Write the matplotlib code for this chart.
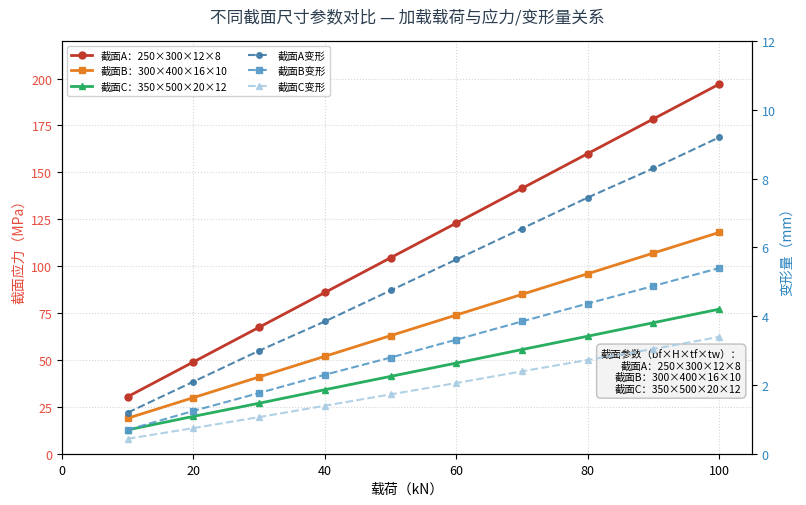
import numpy as np
import matplotlib.pyplot as plt

plt.rcParams['font.family'] = ['Noto Sans CJK SC', 'DejaVu Sans']
plt.rcParams['axes.unicode_minus'] = False

## DATA
#
load = [10, 20, 30, 40, 50, 60, 70, 80, 90, 100]  # kN
stressA = [30.5, 49.0, 67.5, 86.0, 104.5, 123.0, 141.5, 160.0, 178.5, 197.0]  # MPa
stressB = [19.0, 30.0, 41.0, 52.0, 63.0, 74.0, 85.0, 96.0, 107.0, 118.0]
stressC = [12.8, 20.0, 27.0, 34.2, 41.3, 48.4, 55.6, 62.7, 69.9, 77.1]
defA = [1.2, 2.1, 3.0, 3.85, 4.75, 5.65, 6.55, 7.45, 8.3, 9.2]  # mm
defB = [0.7, 1.25, 1.77, 2.3, 2.8, 3.32, 3.85, 4.37, 4.88, 5.4]
defC = [0.44, 0.75, 1.07, 1.4, 1.73, 2.06, 2.4, 2.73, 3.05, 3.4]

labels = ['截面A：250×300×12×8', '截面B：300×400×16×10', '截面C：350×500×20×12']
defLabels = ['截面A变形', '截面B变形', '截面C变形']

## PLOT
#
fig, ax1 = plt.subplots(figsize=(8.06, 5.06), dpi=100)
ax2 = ax1.twinx()

lines = []
lines += ax1.plot(load, stressA, '-o', color='#c0392b', lw=2, ms=5, label=labels[0])
lines += ax1.plot(load, stressB, '-s', color='#e67e22', lw=2, ms=5, label=labels[1])
lines += ax1.plot(load, stressC, '-^', color='#27ae60', lw=2, ms=5, label=labels[2])

lines += ax2.plot(load, defA, '--o', color='#3d7aa6', lw=1.5, ms=4, alpha=0.9, label=defLabels[0])
lines += ax2.plot(load, defB, '--s', color='#5499c7', lw=1.5, ms=4, alpha=0.9, label=defLabels[1])
lines += ax2.plot(load, defC, '--^', color='#a9cce3', lw=1.5, ms=4, alpha=0.9, label=defLabels[2])

ax1.set_xlim(0, 105)
ax1.set_ylim(0, 220)
ax2.set_ylim(0, 12)

ax1.set_xlabel('载荷（kN）', fontsize=10)
ax1.set_ylabel('截面应力（MPa）', color='#e74c3c', fontsize=10)
ax2.set_ylabel('变形量（mm）', color='#2e86c1', fontsize=10)
ax1.tick_params(axis='y', labelcolor='#e74c3c', labelsize=9)
ax2.tick_params(axis='y', labelcolor='#2e86c1', labelsize=9)
ax1.tick_params(axis='x', labelsize=9)

ax1.grid(True, linestyle=':', color='#cccccc', alpha=0.8)

ax1.legend(lines, [l.get_label() for l in lines], loc='upper left', ncol=2,
           fontsize=7.5, framealpha=0.9, edgecolor='#cccccc')

ax1.text(0.985, 0.145, '截面参数（bf×H×tf×tw）：\n截面A：250×300×12×8\n截面B：300×400×16×10\n截面C：350×500×20×12',
         transform=ax1.transAxes, ha='right', va='bottom', fontsize=7.5, multialignment='right',
         bbox=dict(boxstyle='round,pad=0.4', facecolor='#f2f2f2', edgecolor='#bbbbbb', alpha=0.9))

ax1.set_title('不同截面尺寸参数对比 — 加载载荷与应力/变形量关系', fontsize=12, color='#2c3e50', pad=14)

plt.subplots_adjust(left=0.077, right=0.933, top=0.917, bottom=0.101)
plt.savefig('out.png', dpi=100)
